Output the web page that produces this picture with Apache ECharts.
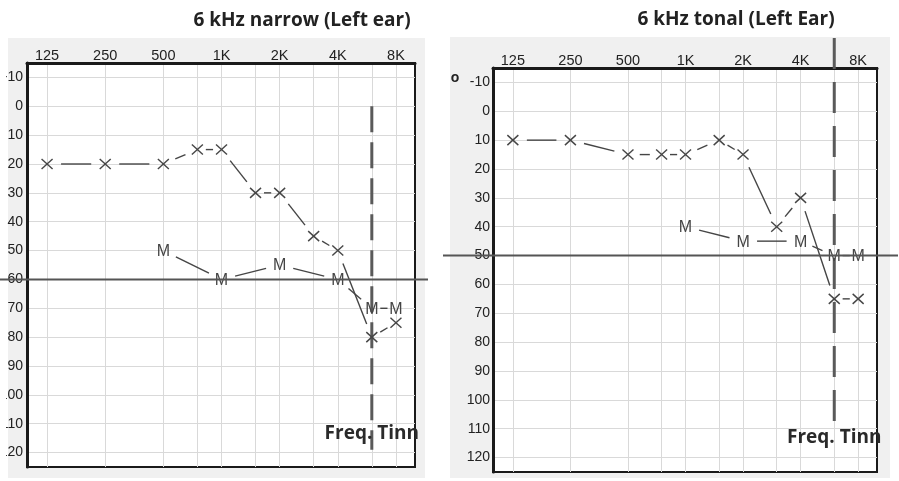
<!DOCTYPE html>
<html>
<head>
<meta charset="utf-8">
<script src="https://cdn.jsdelivr.net/npm/echarts@6/dist/echarts.min.js"></script>
<style>
html,body{margin:0;padding:0;background:#fff;}
#c{width:899px;height:481px;}
</style>
</head>
<body>
<div id="c"></div>
<script>
// ---------- data ----------
const titles = ['6 kHz narrow (Left ear)', '6 kHz tonal (Left Ear)'];
const gridFreqs = [125, 250, 500, 750, 1000, 1500, 2000, 3000, 4000, 6000, 8000];
const labelFreqs = [125, 250, 500, 1000, 2000, 4000, 8000];
const freqLabels = ['125', '250', '500', '1K', '2K', '4K', '8K'];
const dbTicks = [-10, 0, 10, 20, 30, 40, 50, 60, 70, 80, 90, 100, 110, 120];

// panel 1: 6 kHz narrow
const narrowXFreqs = [125, 250, 500, 750, 1000, 1500, 2000, 3000, 4000, 6000, 8000];
const narrowXdB    = [20, 20, 20, 15, 15, 30, 30, 45, 50, 80, 75];
const narrowMFreqs = [500, 1000, 2000, 4000, 6000, 8000];
const narrowMdB    = [50, 60, 55, 60, 70, 70];
const narrowRefDb  = 60;
const narrowTinn   = [6000, 0, 119, 113.5]; // freq, from dB, to dB, label dB

// panel 2: 6 kHz tonal
const tonalXFreqs = [125, 250, 500, 750, 1000, 1500, 2000, 3000, 4000, 6000, 8000];
const tonalXdB    = [10, 10, 15, 15, 15, 10, 15, 40, 30, 65, 65];
const tonalMFreqs = [1000, 2000, 4000, 6000, 8000];
const tonalMdB    = [40, 45, 45, 50, 50];
const tonalRefDb  = 50;
const tonalTinn   = [6000, -25.4, 111, 113];

const tinnLabel = 'Freq. Tinn';

// ---------- helpers ----------
const INK = '#454545';
const zip = (a, b) => a.map((v, i) => [v, b[i]]);

function traceRender(points, kind) {
  return function (params, api) {
    const i = params.dataIndex;
    const p = api.coord([api.value(0), api.value(1)]);
    const children = [];
    if (kind === 'X') {
      const h = 5.5, v = 5;
      children.push({type: 'line', shape: {x1: p[0] - h, y1: p[1] - v, x2: p[0] + h, y2: p[1] + v},
        style: {stroke: INK, lineWidth: 1.4}});
      children.push({type: 'line', shape: {x1: p[0] - h, y1: p[1] + v, x2: p[0] + h, y2: p[1] - v},
        style: {stroke: INK, lineWidth: 1.4}});
    } else {
      children.push({type: 'text', style: {text: 'M', x: p[0], y: p[1] + 1, align: 'center',
        verticalAlign: 'middle', font: '16px "Liberation Sans", Arial, sans-serif', fill: INK}});
    }
    if (i < points.length - 1) {
      const q = api.coord(points[i + 1]);
      const dx = q[0] - p[0], dy = q[1] - p[1], d = Math.hypot(dx, dy);
      const g = Math.min(14, d * 0.35);
      if (d > 2 * g) {
        children.push({type: 'line', shape: {
          x1: p[0] + dx * g / d, y1: p[1] + dy * g / d,
          x2: q[0] - dx * g / d, y2: q[1] - dy * g / d},
          style: {stroke: INK, lineWidth: 1.4}});
      }
    }
    return {type: 'group', children};
  };
}

function refRender(extL, extR) {
  return function (params, api) {
    const cs = params.coordSys;
    const p = api.coord([api.value(0), api.value(1)]);
    return {type: 'line', z2: 50, shape: {x1: cs.x - extL, y1: p[1], x2: cs.x + cs.width + extR, y2: p[1]},
      style: {stroke: '#555', lineWidth: 2}};
  };
}

function tinnRender(dash) {
  return function (params, api) {
    const a = api.coord([api.value(0), api.value(1)]);
    const b = api.coord([api.value(0), api.value(2)]);
    const t = api.coord([api.value(0), api.value(3)]);
    return {type: 'group', children: [
      {type: 'line', shape: {x1: a[0], y1: a[1], x2: b[0], y2: b[1]},
        style: {stroke: '#5a5a5a', lineWidth: 3, lineDash: dash}},
      {type: 'text', z2: 100, style: {text: tinnLabel, x: t[0], y: t[1], align: 'center', verticalAlign: 'middle',
        font: 'bold 19px "Open Sans", sans-serif', fill: '#2a2a2a'}}
    ]};
  };
}

const LABEL_FONT = '"Liberation Sans", Arial, sans-serif';

function xAxisFor(gi) {
  return {
    type: 'log', logBase: 2, gridIndex: gi, position: 'top',
    min: 98.4, max: 10040,
    axisLine: {show: true, onZero: false, lineStyle: {color: '#1a1a1a', width: 3}},
    axisTick: {show: false, customValues: gridFreqs},
    axisLabel: {
      show: true, customValues: labelFreqs, margin: 0,
      color: '#222', fontSize: 14.5, fontFamily: LABEL_FONT,
      formatter: function (v) {
        let best = 0;
        labelFreqs.forEach((f, k) => { if (Math.abs(Math.log(f / v)) < Math.abs(Math.log(labelFreqs[best] / v))) best = k; });
        return freqLabels[best];
      }
    },
    splitLine: {show: true, lineStyle: {color: '#d9d9d9', width: 1}}
  };
}
function yAxisFor(gi, margin) {
  return {
    type: 'value', gridIndex: gi, inverse: true, min: -15, max: 125,
    axisLine: {show: true, onZero: false, lineStyle: {color: '#1a1a1a', width: 3}},
    axisTick: {show: false, customValues: dbTicks},
    axisLabel: {show: true, customValues: dbTicks, margin: margin,
      color: '#222', fontSize: 14, fontFamily: LABEL_FONT},
    splitLine: {show: true, lineStyle: {color: '#d9d9d9', width: 1}}
  };
}

const chart = echarts.init(document.getElementById('c'), null, {renderer: 'canvas'});
chart.setOption({
  backgroundColor: '#ffffff',
  animation: false,
  title: [
    {text: titles[0], left: 297, top: 6, textAlign: 'center',
      textStyle: {fontFamily: '"Open Sans", sans-serif', fontWeight: 'bold', fontSize: 19, color: '#222'}},
    {text: titles[1], left: 731, top: 5, textAlign: 'center',
      textStyle: {fontFamily: '"Open Sans", sans-serif', fontWeight: 'bold', fontSize: 19, color: '#222'}}
  ],
  graphic: [
    {type: 'rect', z: -100, shape: {x: 8, y: 38, width: 417, height: 440}, style: {fill: '#f0f0f0'}},
    {type: 'rect', z: -100, shape: {x: 450, y: 37, width: 440, height: 441}, style: {fill: '#f0f0f0'}},
    {type: 'rect', z: 1, shape: {x: 0, y: 38, width: 6, height: 440}, style: {fill: '#ffffff'}},
    {type: 'text', z: 100, style: {text: 'o', x: 455, y: 78, align: 'center', verticalAlign: 'middle',
      font: 'bold 14px "Liberation Sans", Arial, sans-serif', fill: '#222'}}
  ],
  grid: [
    {left: 27, top: 63, width: 388, height: 404, show: true, backgroundColor: '#ffffff',
      borderColor: '#1a1a1a', borderWidth: 2, containLabel: false, outerBoundsMode: 'none'},
    {left: 493, top: 68, width: 384, height: 404, show: true, backgroundColor: '#ffffff',
      borderColor: '#1a1a1a', borderWidth: 2, containLabel: false, outerBoundsMode: 'none'}
  ],
  xAxis: [xAxisFor(0), xAxisFor(1)],
  yAxis: [yAxisFor(0, 4), yAxisFor(1, 3)],
  series: [
    {type: 'custom', xAxisIndex: 0, yAxisIndex: 0, data: [[gridFreqs[9], narrowRefDb]], renderItem: refRender(27, 13), z: 5, silent: true},
    {type: 'custom', xAxisIndex: 1, yAxisIndex: 1, data: [[gridFreqs[9], tonalRefDb]], renderItem: refRender(50, 21), z: 5, silent: true},
    {type: 'custom', xAxisIndex: 0, yAxisIndex: 0, data: [narrowTinn], renderItem: tinnRender([26, 10]), z: 3, silent: true},
    {type: 'custom', xAxisIndex: 1, yAxisIndex: 1, data: [tonalTinn], renderItem: tinnRender([31, 13]), z: 3, silent: true},
    {type: 'custom', xAxisIndex: 0, yAxisIndex: 0, data: zip(narrowXFreqs, narrowXdB), renderItem: traceRender(zip(narrowXFreqs, narrowXdB), 'X'), z: 4, silent: true},
    {type: 'custom', xAxisIndex: 0, yAxisIndex: 0, data: zip(narrowMFreqs, narrowMdB), renderItem: traceRender(zip(narrowMFreqs, narrowMdB), 'M'), z: 4, silent: true},
    {type: 'custom', xAxisIndex: 1, yAxisIndex: 1, data: zip(tonalXFreqs, tonalXdB), renderItem: traceRender(zip(tonalXFreqs, tonalXdB), 'X'), z: 4, silent: true},
    {type: 'custom', xAxisIndex: 1, yAxisIndex: 1, data: zip(tonalMFreqs, tonalMdB), renderItem: traceRender(zip(tonalMFreqs, tonalMdB), 'M'), z: 4, silent: true}
  ]
});
</script>
</body>
</html>
